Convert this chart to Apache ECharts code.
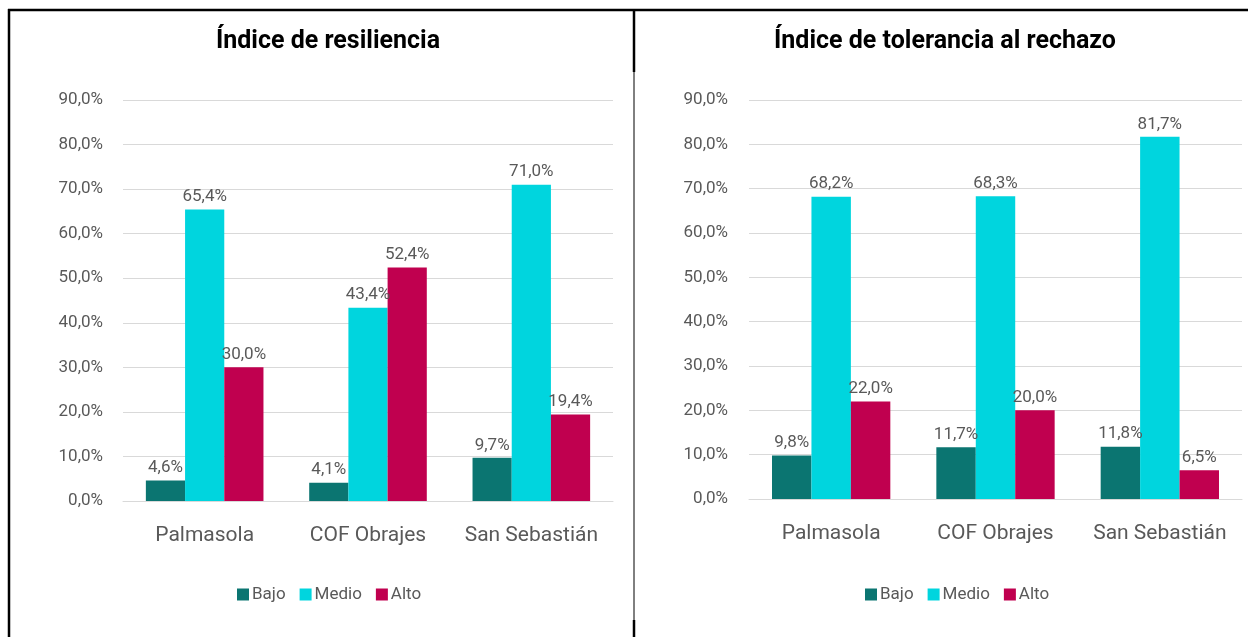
<!DOCTYPE html>
<html>
<head>
<meta charset="utf-8">
<script src="https://cdn.jsdelivr.net/npm/echarts@6/dist/echarts.min.js"></script>
<style>
  html, body { margin: 0; padding: 0; background: #fff; }
  #chart { width: 1253px; height: 637px; }
</style>
</head>
<body>
<div id="chart"></div>
<script>
// categorias y valores
let categorias = ['Palmasola', 'COF Obrajes', 'San Sebastián'];
let niveles = ['Bajo', 'Medio', 'Alto'];
let colores = ['#0b7571', '#00d5de', '#c0004f'];

let resBajo = [4.6, 4.1, 9.7];
let resMedio = [65.4, 43.4, 71.0];
let resAlto = [30.0, 52.4, 19.4];

let tolBajo = [9.8, 11.7, 11.8];
let tolMedio = [68.2, 68.3, 81.7];
let tolAlto = [22.0, 20.0, 6.5];

let ticksY = [0, 10, 20, 30, 40, 50, 60, 70, 80, 90];

const fuente = 'Roboto, "Liberation Sans", sans-serif';
const gris = '#595959';

function pct(v){
	return v.toFixed(1).replace('.', ',') + '%';
}

function serie(nombre, datos, idx, color){
	return {
		name: nombre,
		type: 'bar',
		xAxisIndex: idx,
		yAxisIndex: idx,
		data: datos,
		barGap: '0%',
		barCategoryGap: '28%',
		itemStyle: { color: color },
		label: {
			show: true,
			position: 'top',
			distance: 4,
			color: gris,
			fontFamily: fuente,
			fontSize: 17,
			formatter: function(p){ return pct(p.value); }
		}
	};
}

function ejeX(idx){
	return {
		type: 'category',
		gridIndex: idx,
		data: categorias,
		axisTick: { show: false },
		axisLine: { lineStyle: { color: '#d9d9d9' } },
		axisLabel: { interval: 0, color: gris, fontFamily: fuente, fontSize: 21, margin: 24 }
	};
}

function ejeY(idx, margen){
	return {
		type: 'value',
		gridIndex: idx,
		min: ticksY[0],
		max: ticksY[ticksY.length - 1],
		interval: 10,
		splitLine: { lineStyle: { color: '#d9d9d9' } },
		axisLabel: {
			color: gris, fontFamily: fuente, fontSize: 17, margin: margen,
			formatter: function(v){ return pct(v); }
		}
	};
}

function leyenda(x){
	return {
		data: niveles,
		left: x, top: 581,
		itemWidth: 12, itemHeight: 12, itemGap: 14,
		icon: 'rect',
		textStyle: { color: gris, fontFamily: fuente, fontSize: 17, padding: [0, 0, 0, -2] }
	};
}

var chart = echarts.init(document.getElementById('chart'));
var option = {
	animation: false,
	color: colores,
	title: [
		{
			text: 'Índice de resiliencia',
			left: 323, top: 24, textAlign: 'center',
			textStyle: { fontFamily: fuente, fontSize: 25, fontWeight: 'bold', color: '#000' }
		},
		{
			text: 'Índice de tolerancia al rechazo',
			left: 940, top: 24, textAlign: 'center',
			textStyle: { fontFamily: fuente, fontSize: 25, fontWeight: 'bold', color: '#000' }
		}
	],
	legend: [leyenda(232), leyenda(860)],
	grid: [
		{ left: 123, right: 640, top: 100, bottom: 136, containLabel: false },
		{ left: 749, right: 11, top: 100, bottom: 138, containLabel: false }
	],
	xAxis: [ejeX(0), ejeX(1)],
	yAxis: [ejeY(0, 20), ejeY(1, 21)],
	series: [
		serie('Bajo', resBajo, 0, colores[0]),
		serie('Medio', resMedio, 0, colores[1]),
		serie('Alto', resAlto, 0, colores[2]),
		serie('Bajo', tolBajo, 1, colores[0]),
		serie('Medio', tolMedio, 1, colores[1]),
		serie('Alto', tolAlto, 1, colores[2])
	],
	graphic: [
		// bordes de la tabla
		{ type: 'line', shape: { x1: 8, y1: 10, x2: 1248, y2: 10 }, style: { stroke: '#000', lineWidth: 2.5 } },
		{ type: 'line', shape: { x1: 9, y1: 9, x2: 9, y2: 637 }, style: { stroke: '#000', lineWidth: 2.5 } },
		{ type: 'line', shape: { x1: 634, y1: 9, x2: 634, y2: 72 }, style: { stroke: '#000', lineWidth: 2.5 } },
		{ type: 'line', shape: { x1: 634, y1: 72, x2: 634, y2: 620 }, style: { stroke: '#000', lineWidth: 1 } },
		{ type: 'line', shape: { x1: 634, y1: 620, x2: 634, y2: 637 }, style: { stroke: '#000', lineWidth: 2.5 } }
	]
};
chart.setOption(option);
</script>
</body>
</html>
